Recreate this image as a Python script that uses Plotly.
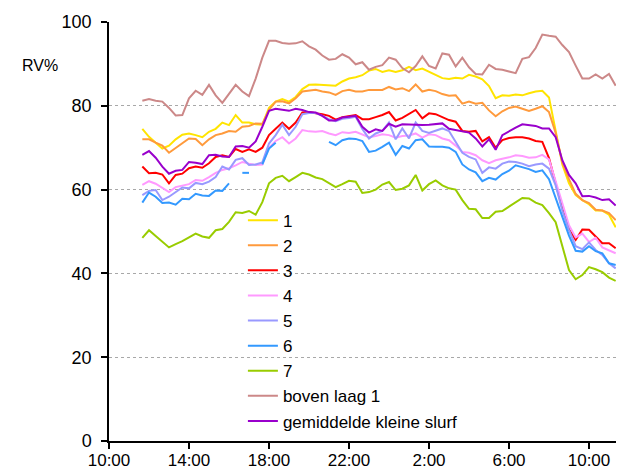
import pandas as pd
import plotly.graph_objects as go

# time axis: 20-minute readings
start_time = "2010-01-01 11:40"
n_points = 72
times = pd.date_range(start_time, periods=n_points, freq="20min")

series_names = ["1", "2", "3", "4", "5", "6", "7", "boven laag 1", "gemiddelde kleine slurf"]

s1 = [74.5, 72.6, 71.2, 69.8, 70.5, 72, 73.1, 73.4, 73, 72.5, 73.8, 74.5, 76, 75.4, 77.8, 76, 76, 75.6,
      75.5, 79.5, 81, 81.6, 81, 82.1, 84, 85, 85.1, 85, 84.9, 84.8, 85.8, 86.5, 86.8, 87.3, 88.4, 88.8,
      88.1, 88.5, 88.1, 88.5, 89.3, 88.5, 88.9, 88.1, 87.4, 86.6, 86.4, 86.7, 86.5, 87.4, 87, 86.3,
      84.7, 81.8, 82.5, 82.4, 82.7, 82.5, 83, 83.4, 83.6, 82, 74, 66, 61.5, 58.7, 57.5, 56.5, 55, 55, 54, 51]
s2 = [72, 72, 71.2, 70.5, 68.8, 70, 71.2, 72.2, 72.1, 70.6, 72, 73, 73.4, 74, 73.8, 75, 75.2, 75.8,
      75.7, 79, 81, 81.1, 80.6, 81.8, 83.4, 83.6, 83.8, 83.4, 83.2, 82.6, 83.5, 83.8, 83.4, 83.4, 83.8, 83.8,
      83.8, 84.5, 83.9, 84.2, 83.5, 85.1, 83.4, 83.8, 83.5, 82.8, 82.4, 82.5, 80.5, 81, 80.5, 80.7,
      78.9, 77.5, 78.7, 79.5, 79.8, 79.3, 78.8, 79.3, 79.9, 78.5, 73.5, 66.5, 62.5, 59, 57.5, 56.8, 55.2, 55, 54.4, 52.7]
s3 = [65.5, 63.9, 64, 63.6, 61.5, 63.5, 63.8, 65.1, 65.5, 65.2, 66.3, 67.8, 68.2, 67.8, 69.7, 69, 69.6, 69,
      70, 73, 74.5, 76, 74.5, 76, 78.4, 78.5, 78.2, 78, 77.6, 76.7, 77.3, 77.6, 77.8, 76.8, 76.8, 77.3,
      77.8, 78.5, 76.5, 77.1, 78, 79, 77, 78.2, 78, 77.2, 76.6, 76.2, 74, 73.8, 74, 71.5,
      72.5, 70, 71.8, 72.3, 72.5, 72.5, 72.2, 71.6, 71.4, 67.5, 61.8, 55.5, 50.5, 48, 50.5, 50.4, 48.8, 47.2, 47.2, 46]
s4 = [61.1, 62, 61.4, 60.3, 59.4, 60.6, 60.9, 61.3, 62.3, 62.1, 63, 64, 64.7, 65.1, 65.8, 66.6, 66.2, 65.9,
      66, 70, 71.6, 72.5, 71, 72.2, 74.2, 73.9, 73.8, 74, 73.4, 73, 73.7, 73.5, 73.8, 73.2, 72.5, 72.8,
      73.2, 73, 72.4, 72.8, 72.9, 73.4, 72.4, 73.2, 73, 72.2, 71.8, 70.5, 69, 68.8, 68.2, 67,
      66.3, 67, 67.3, 67.7, 68.2, 68, 67.6, 67.7, 68.3, 67.2, 62, 56.5, 51.5, 48.6, 49.5, 47.5, 48.5, 46.2, 45.4, 44.8]
s5 = [58.7, 59.7, 59.9, 57.5, 58.3, 59.3, 60.5, 60.3, 61.6, 61.3, 61.9, 63, 65.5, 64.8, 67.1, 67.5, 65.9, 66,
      66.5, 71, 73, 75.5, 73, 75, 78, 78.3, 78.3, 77.6, 76.8, 76.3, 76.9, 77.1, 77.4, 74.5, 72.2, 73.4,
      74, 76, 72, 74.6, 72.2, 76, 74, 73.5, 74, 74.6, 74, 71.5, 68.8, 67.8, 67.2, 64,
      65.3, 65, 66.2, 66.7, 66.6, 66.2, 65.6, 66, 66.2, 65, 61, 55, 50.4, 46.5, 45.8, 47.4, 45.6, 44.4, 42.4, 41.2]
s6 = [56.9, 59.3, 58.3, 56.8, 56.9, 56.4, 57.8, 57.7, 59, 58.6, 58.5, 59.8, 59.7, 61.5, None, 64, 64, None,
      66, 69.8, 71.2, None, None, None, None, None, None, None, 71.4, 70.6, 71.8, 72.2, 72.1, 71.6, 69, 69.3,
      70.2, 71.2, 68.3, 70.4, 69.8, 71.8, 72, 70.3, 70.2, 70.2, 70, 69, 66, 64.8, 64.1, 62,
      62.8, 62.4, 63.7, 64.5, 65.8, 65.3, 64.9, 64.2, 64.6, 62.5, 58, 53.5, 49, 45.4, 45.2, 46.5, 45.3, 44.8, 42.4, 42]
s7 = [48.5, 50.3, 48.9, 47.5, 46.2, 47, 47.7, 48.6, 49.5, 48.8, 48.5, 50.3, 50.6, 52.3, 54.6, 54.4, 54.9, 54,
      57, 61.5, 62.8, 63.3, 62, 63, 64, 63.6, 62.9, 62.5, 61.5, 60.6, 61.3, 62.1, 61.9, 59.2, 59.4, 60,
      61.2, 61.8, 59.9, 60.2, 61, 63.5, 59.8, 61.3, 62.2, 61, 60.3, 60, 57.5, 55.4, 55.3, 53.2,
      53.2, 54.7, 54.9, 55.9, 57, 58, 57.9, 56.9, 56.3, 54.4, 52.2, 46.2, 40.8, 38.6, 39.6, 41.5, 41, 40.3, 39, 38.2]
s_boven = [81.2, 81.6, 81.2, 81, 79.5, 77.7, 77.8, 81.8, 83.6, 82.6, 85, 82.5, 80.7, 82.8, 85, 83.4, 82.3, 86.5,
           91.5, 95.5, 95.5, 95, 94.8, 94.9, 95.4, 94.2, 93.4, 92, 91, 91.2, 92.3, 91.5, 89.9, 90.4, 88.6, 89.3,
           89.7, 91.5, 91, 89, 88, 89.5, 91.8, 89.5, 88.9, 92.5, 92.2, 89.4, 91.5, 89.2, 87.6, 87.5,
           89.8, 88.8, 88.6, 88.2, 87.8, 91.2, 91.6, 93.8, 97, 96.7, 96.5, 94.5, 92.8, 89.6, 86.5, 86.5, 87.5, 86.5, 87.6, 84.8]
s_gem = [68.3, 69.2, 67.6, 65.5, 63.8, 64.5, 64.7, 66.6, 66.4, 66.1, 68.2, 68.3, 67.9, 67.8, 70.3, 70.4, 70, 71.5,
         75, 78.8, 79.3, 79, 78.8, 79.3, 79, 78.5, 78.4, 77.6, 76.5, 76.5, 77.2, 77.4, 77.6, 75, 73.6, 74.4,
         74, 75.7, 75, 75.6, 75.5, 75.4, 75.4, 75.5, 75.6, 75.8, 74.5, 74.2, 73.8, 73.6, 72.2, 70.3,
         72, 69.5, 73, 74, 74.8, 75.6, 75.4, 75.2, 74.6, 74.6, 72.5, 67, 63.5, 61.5, 58.4, 58.5, 58.1, 57.5, 57.7, 56.2]

series_values = [s1, s2, s3, s4, s5, s6, s7, s_boven, s_gem]
series_colors = ["#FFE400", "#FF9A3C", "#FF0000", "#FF99FF", "#9999FF", "#3399FF", "#99CC00", "#CC8888", "#9900CC"]

y_ticks = [0, 20, 40, 60, 80, 100]

fig = go.Figure()
for name, vals, col in zip(series_names, series_values, series_colors):
    fig.add_trace(go.Scatter(x=times, y=vals, name=name, mode="lines",
                             line=dict(color=col, width=2), connectgaps=False))

# the page body adds an 8px offset, so the figure is sized 616x462
font_family = "Liberation Sans, Arial, sans-serif"
fig.update_layout(
    width=616, height=462,
    margin=dict(l=101, r=0, t=14, b=29, autoexpand=False),
    paper_bgcolor="white", plot_bgcolor="white",
    font=dict(family=font_family, size=17, color="black"),
    showlegend=True,
    legend=dict(x=0.260, y=0.569, xanchor="left", yanchor="top",
                bgcolor="rgba(0,0,0,0)", font=dict(size=17, color="black"),
                itemwidth=30, tracegroupgap=0),
    xaxis=dict(type="date",
               range=["2010-01-01 10:00", "2010-01-02 11:45"],
               tick0="2010-01-01 10:00", dtick=4 * 3600 * 1000,
               tickformat="%-H:%M",
               showgrid=False, showline=True, linecolor="black", linewidth=1.5,
               ticks="outside", ticklen=6, tickcolor="black", tickwidth=1.5,
               tickfont=dict(size=17), ticklabelstandoff=-3),
    yaxis=dict(range=[0, 100], tickvals=y_ticks,
               showgrid=True, gridcolor="#A8A8A8", griddash="dot", gridwidth=1,
               zeroline=False,
               showline=True, linecolor="black", linewidth=1.5,
               ticks="outside", ticklen=6, tickcolor="black", tickwidth=1.5,
               tickfont=dict(size=18), ticklabelstandoff=6),
    annotations=[dict(text="RV%", xref="paper", yref="paper", x=-0.134, y=0.895,
                      xanchor="center", yanchor="middle", showarrow=False,
                      font=dict(size=16, color="black"))],
)

fig.write_html("out.html")
